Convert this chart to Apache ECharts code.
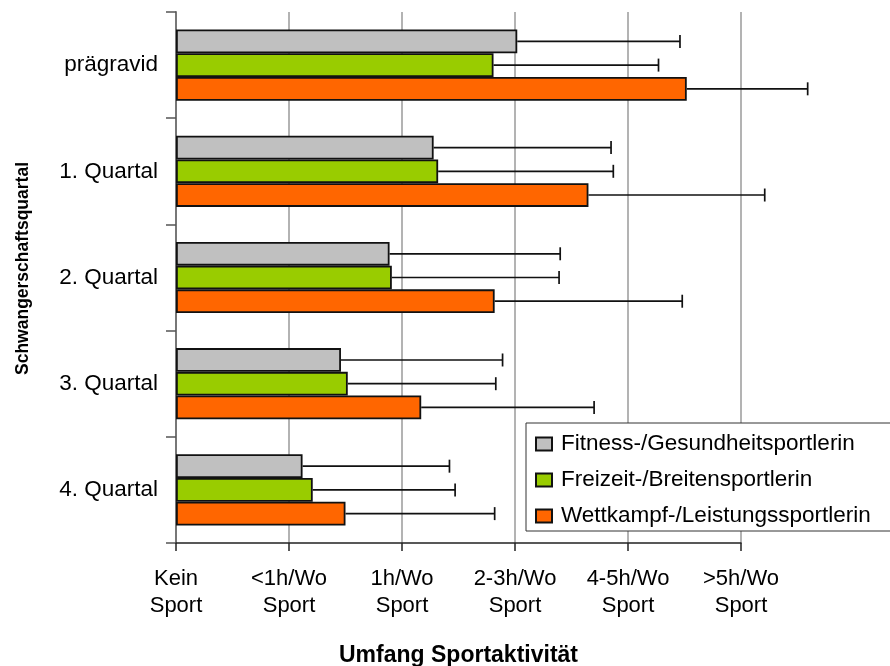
<!DOCTYPE html>
<html>
<head>
<meta charset="utf-8">
<script src="https://cdn.jsdelivr.net/npm/echarts@6/dist/echarts.min.js"></script>
<style>
  html, body { margin: 0; padding: 0; background: #fff; }
  #chart { width: 890px; height: 666px; }
</style>
</head>
<body>
<div id="chart"></div>
<script>
// Pregnancy stage categories (top to bottom)
const categories = ['prägravid', '1. Quartal', '2. Quartal', '3. Quartal', '4. Quartal'];

// Activity scale tick labels (0 .. 5)
const xTickLabels = ['Kein\nSport', '<1h/Wo\nSport', '1h/Wo\nSport', '2-3h/Wo\nSport', '4-5h/Wo\nSport', '>5h/Wo\nSport'];

// Series names
const seriesNames = ['Fitness-/Gesundheitsportlerin', 'Freizeit-/Breitensportlerin', 'Wettkampf-/Leistungssportlerin'];

// Mean activity level per group
const fitnessMean  = [3.02, 2.28, 1.89, 1.46, 1.12];
const freizeitMean = [2.81, 2.32, 1.91, 1.52, 1.21];
const wettkampfMean = [4.52, 3.65, 2.82, 2.17, 1.50];

// Upper end of the error bar per group
const fitnessErr  = [4.46, 3.85, 3.40, 2.89, 2.42];
const freizeitErr = [4.27, 3.87, 3.39, 2.83, 2.47];
const wettkampfErr = [5.59, 5.21, 4.48, 3.70, 2.82];

const colors = ['#C0C0C0', '#99CC00', '#FF6600'];
const means = [fitnessMean, freizeitMean, wettkampfMean];
const errs = [fitnessErr, freizeitErr, wettkampfErr];

const CATEGORY_GAP = 0.33;
const FONT = '"Liberation Sans", Arial, sans-serif';

const barSeries = seriesNames.map((name, i) => ({
  name: name,
  type: 'bar',
  data: means[i],
  barGap: '0%',
  barCategoryGap: (CATEGORY_GAP * 100) + '%',
  itemStyle: { color: colors[i], borderColor: '#111', borderWidth: 1.8 },
  z: 2
}));

function errorRenderer(pos) {
  return function (params, api) {
    const cat = api.value(2);
    const start = api.coord([api.value(0), cat]);
    const end = api.coord([api.value(1), cat]);
    const band = api.size([0, 1])[1];
    const barW = band * (1 - CATEGORY_GAP) / 3;
    const y = start[1] + (pos - 1) * barW;
    const cap = 6.5;
    const style = { stroke: '#111', lineWidth: 1.7 };
    return {
      type: 'group',
      children: [
        { type: 'line', shape: { x1: start[0], y1: y, x2: end[0], y2: y }, style: style },
        { type: 'line', shape: { x1: end[0], y1: y - cap, x2: end[0], y2: y + cap }, style: style }
      ]
    };
  };
}

const errSeries = seriesNames.map((name, i) => ({
  type: 'custom',
  name: name + ' err',
  renderItem: errorRenderer(i),
  encode: { x: [0, 1], y: 2 },
  data: categories.map((c, k) => [means[i][k], errs[i][k], k]),
  clip: false,
  silent: true,
  z: 3
}));

const chart = echarts.init(document.getElementById('chart'), null, { renderer: 'canvas' });
chart.setOption({
  animation: false,
  backgroundColor: '#fff',
  textStyle: { fontFamily: FONT, color: '#000' },
  grid: { left: 176, right: 149, top: 12, bottom: 123, containLabel: false, outerBoundsMode: 'none' },
  legend: {
    data: seriesNames,
    orient: 'vertical',
    left: 526,
    top: 423,
    backgroundColor: '#fff',
    borderColor: '#333',
    borderWidth: 1,
    borderRadius: 0,
    padding: [9, 30, 3, 9],
    itemWidth: 16,
    itemHeight: 13,
    itemGap: 12,
    icon: 'rect',
    textStyle: { fontFamily: FONT, fontSize: 22.5, color: '#000', lineHeight: 24, padding: [0, 0, 0, 4] },
    selectedMode: false,
    z: 10
  },
  xAxis: {
    type: 'value',
    min: 0,
    max: 5,
    interval: 1,
    name: 'Umfang Sportaktivität',
    nameLocation: 'middle',
    nameGap: 101,
    nameTextStyle: { fontFamily: FONT, fontSize: 23, fontWeight: 'bold', color: '#000' },
    axisLine: { show: true, onZero: false, lineStyle: { color: '#222', width: 1.5 } },
    axisTick: { show: true, length: 8, lineStyle: { color: '#222', width: 1.5 } },
    axisLabel: {
      formatter: v => xTickLabels[v],
      fontFamily: FONT, fontSize: 22, color: '#000', lineHeight: 27, margin: 22
    },
    splitLine: { show: true, lineStyle: { color: '#9a9a9a', width: 1.5 } }
  },
  yAxis: {
    type: 'category',
    data: categories,
    inverse: true,
    name: 'Schwangerschaftsquartal',
    nameLocation: 'middle',
    nameGap: 144,
    nameTextStyle: { fontFamily: FONT, fontSize: 17.5, fontWeight: 'bold', color: '#000', padding: [0, 0, 0, 18] },
    axisLine: { show: true, lineStyle: { color: '#777', width: 2 } },
    axisTick: { show: true, length: 10, lineStyle: { color: '#555', width: 1.5 } },
    axisLabel: { fontFamily: FONT, fontSize: 22.5, color: '#000', margin: 18 },
    splitLine: { show: false }
  },
  series: barSeries.concat(errSeries)
});
</script>
</body>
</html>
